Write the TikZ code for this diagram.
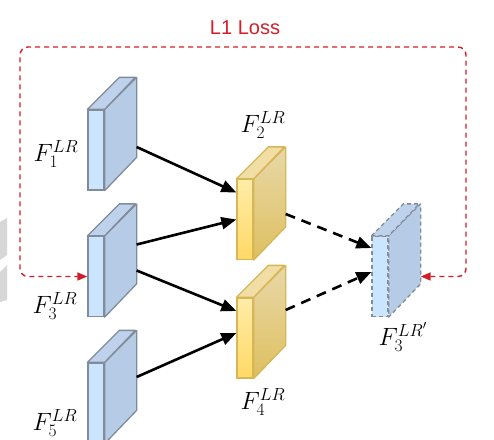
\RequirePackage{fix-cm}
\documentclass[tikz,border=0pt]{standalone}
\usepackage{fontspec}
\newfontfamily\losssans{Liberation Sans}
\usepackage{amsmath}
\usetikzlibrary{arrows.meta, calc}
\definecolor{blueface}{RGB}{204, 229, 255}
\definecolor{bluetop}{RGB}{190, 210, 236}
\definecolor{blueside}{RGB}{182, 204, 230}
\definecolor{bluestroke}{RGB}{128, 140, 153}
\definecolor{yellowhi}{RGB}{255, 236, 168}
\definecolor{yellowlo}{RGB}{255, 217, 102}
\definecolor{yellowtop}{RGB}{240, 222, 165}
\definecolor{yellowsidehi}{RGB}{232, 216, 168}
\definecolor{yellowsidelo}{RGB}{222, 192, 96}
\definecolor{yellowstroke}{RGB}{214, 182, 86}
\definecolor{lossred}{RGB}{210, 30, 40}
\definecolor{cropgray}{RGB}{215, 215, 215}

\tikzset{
  blue front/.style={draw=bluestroke, fill=blueface, line width=1.3pt,
    minimum width=16pt, minimum height=80pt, inner sep=0pt},
  blue side/.style={draw=bluestroke, fill=blueside, line width=1.3pt, line join=round},
  blue top/.style={draw=bluestroke, fill=bluetop, line width=1.3pt, line join=round},
  ghost front/.style={blue front, dash pattern=on 4pt off 3pt},
  ghost side/.style={blue side, dash pattern=on 4pt off 3pt},
  ghost top/.style={blue top, dash pattern=on 4pt off 3pt},
  yellow front/.style={draw=yellowstroke, top color=yellowhi, bottom color=yellowlo,
    line width=1.3pt, minimum width=16pt, minimum height=80pt, inner sep=0pt},
  yellow side/.style={draw=yellowstroke, top color=yellowsidehi, bottom color=yellowsidelo,
    line width=1.3pt, line join=round},
  yellow top/.style={draw=yellowstroke, fill=yellowtop, line width=1.3pt, line join=round},
  feed/.style={-{Triangle[length=15pt, width=12pt]}, line width=2.6pt},
  fuse/.style={feed, dash pattern=on 10pt off 7pt},
  loss/.style={{Triangle[length=10pt, width=8pt]}-{Triangle[length=10pt, width=8pt]},
    draw=lossred, line width=1.4pt, dash pattern=on 5pt off 4pt, rounded corners=8pt},
  flabel/.style={font=\fontsize{25}{30}\selectfont, inner sep=0pt}
}

% front face as a node, top and side faces drawn from its anchors
\newcommand{\featslab}[3]{%
  \node[#3 front] (#1) at (#2) {};
  \path[#3 side] (#1.north east) -- ++(32,-32) -- ++(0,80) -- (#1.south east) -- cycle;
  \path[#3 top] (#1.north west) -- ++(32,-32) -- ++(16,0) -- (#1.north east) -- cycle;
  \coordinate (#1-back) at ($(#1.east)+(32,-32)$);
}

\begin{document}
\begin{tikzpicture}[x=1pt, y=-1pt]

  \useasboundingbox (0,0) rectangle (494,439);

  % cropped remains at the left border
  \fill[cropgray] (0,222) -- (7,218) -- (7,255) -- (0,260) -- cycle;
  \fill[cropgray] (0,272) -- (7,265) -- (7,300) -- (0,302) -- cycle;

  % --- Input features ---
  \featslab{f1}{96,150}{blue}
  \featslab{f3}{96,276.5}{blue}
  \featslab{f5}{96,403}{blue}

  % --- Intermediate features ---
  \featslab{f2}{245,219.5}{yellow}
  \featslab{f4}{245,338}{yellow}

  % --- Reconstructed feature ---
  \featslab{f3p}{380,276.5}{ghost}

  % Labels
  \node[flabel] (l1) at (56,154) {$F_1^{LR}$};
  \node[flabel] (l2) at (263,125) {$F_2^{LR}$};
  \node[flabel] (l3) at (55,306) {$F_3^{LR}$};
  \node[flabel] (l4) at (263,402) {$F_4^{LR}$};
  \node[flabel] (l5) at (55,423) {$F_5^{LR}$};
  \node[flabel] (l3p) at (403,337) {$F_3^{LR'}$};

  % Solid arrows into the yellow features
  \draw[feed] ($(f1-back)+(0,29)$) -- ($(f2.west)+(0,-27)$);
  \draw[feed] (f3-back) -- (f2.west);
  \draw[feed] ($(f3-back)+(0,26)$) -- ($(f4.west)+(0,-27)$);
  \draw[feed] ($(f5-back)+(0,6)$) -- ($(f4.west)+(0,-5)$);

  % Dashed arrows into the reconstruction
  \draw[fuse] ($(f2-back)+(0,26.5)$) -- ($(f3p.west)+(0,-28.5)$);
  \draw[fuse] ($(f4-back)+(0,4)$) -- ($(f3p.west)+(0,-4.5)$);

  % L1 loss loop
  \coordinate (loss-ne) at (466,47);
  \coordinate (loss-sw) at (20,276.5);
  \draw[loss] ($(f3p-back)+(0,32)$) -| (loss-ne) -| (loss-sw) -- (f3.west);
  \node[text=lossred, font=\losssans\fontsize{20}{24}\selectfont] (losslabel) at (245,28) {L1 Loss};

\end{tikzpicture}
\end{document}
